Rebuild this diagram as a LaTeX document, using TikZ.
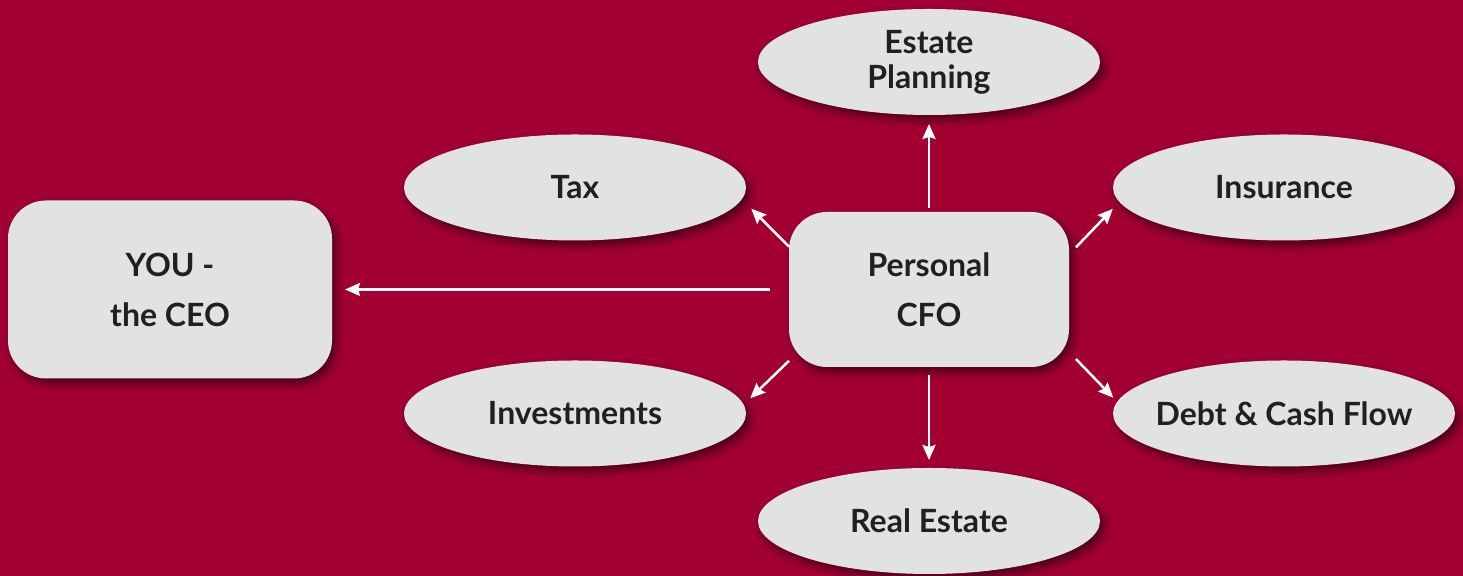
\documentclass[tikz,border=0pt]{standalone}
\usepackage{fontspec}
\setmainfont{Lato}
\usetikzlibrary{shapes.geometric, arrows.meta, shadows.blur}
\definecolor{fond}{HTML}{A20032}
\definecolor{gris}{HTML}{E1E2E4}
\definecolor{encre}{HTML}{231F20}

\begin{document}
\begin{tikzpicture}[x=0.5pt, y=0.5pt]
\tikzset{ombre/.style={blur shadow={shadow xshift=2pt, shadow yshift=-2.5pt, shadow blur radius=4pt, shadow opacity=55}}}
\tikzset{ovnoeud/.style={ellipse, fill=gris, ombre, minimum width=171pt, minimum height=53pt, inner xsep=-15pt, inner ysep=0pt, outer sep=0pt, align=center, text=encre, font=\fontsize{16}{17.5}\selectfont\bfseries}}
\tikzset{rectnoeud/.style={rectangle, rounded corners=19pt, fill=gris, ombre, inner sep=0pt, outer sep=0pt, align=center, text=encre, font=\fontsize{16}{25}\selectfont\bfseries}}
\tikzset{fleche/.style={draw=white, line width=1.25pt, -{Stealth[length=7.5pt, width=6.5pt, inset=1pt]}}}
\useasboundingbox (0,0) rectangle (1463,576);
\fill[fond] (0,0) rectangle (1463,576);
\node[rectnoeud, minimum width=162pt, minimum height=89pt] (Ceo) at (170,286.5) {YOU -\\the CEO};
\node[rectnoeud, minimum width=140pt, minimum height=77.5pt] (Cfo) at (929,286.5) {Personal\\CFO};
\node[ovnoeud] (Estate) at (929,514) {Estate\\Planning};
\node[ovnoeud] (Tax) at (575,388.5) {Tax};
\node[ovnoeud] (Insurance) at (1284,388.5) {Insurance};
\node[ovnoeud] (Invest) at (575,162.5) {Investments};
\node[ovnoeud] (Debt) at (1284,162.5) {Debt \& Cash Flow};
\node[ovnoeud] (Real) at (929,55) {Real Estate};
\draw[fleche, shorten <=9.5pt, shorten >=6.5pt] (Cfo.west) -- (Ceo.east);
\draw[fleche, shorten <=2pt, shorten >=4.5pt] (Cfo.north) -- (Estate.south);
\draw[fleche, shorten <=4pt, shorten >=4pt] (Cfo.south) -- (Real.north);
\draw[fleche, shorten >=6.7pt] (Cfo.163) -- (Tax.-4.1);
\draw[fleche, shorten <=5pt, shorten >=4.8pt] (Cfo.14.6) -- (Insurance.185.1);
\draw[fleche, shorten >=4.6pt] (Cfo.207) -- (Invest.3.1);
\draw[fleche, shorten <=5pt, shorten >=2.8pt] (Cfo.-24.7) -- (Debt.176.1);
\end{tikzpicture}
\end{document}
